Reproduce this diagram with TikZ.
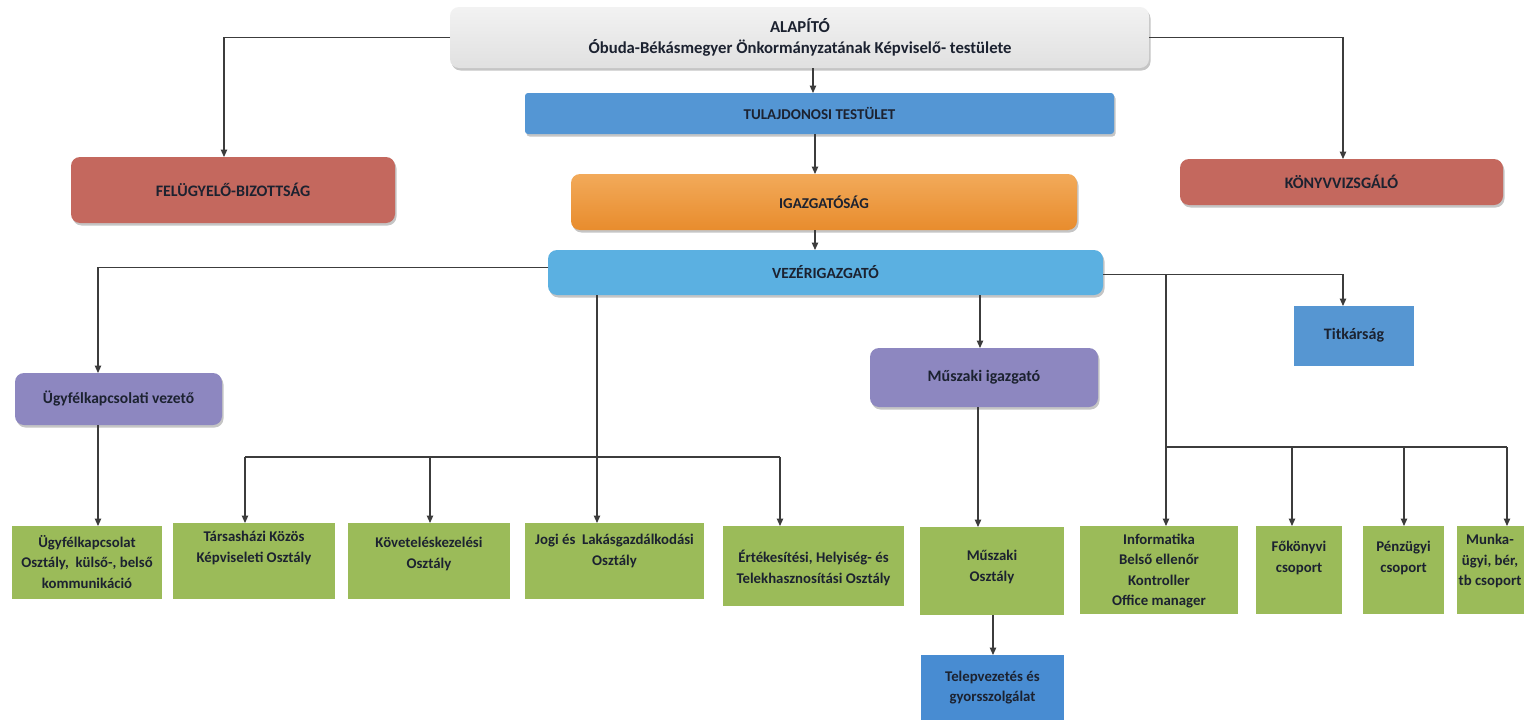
\documentclass[tikz,border=0pt]{standalone}
\usepackage{fontspec}
\setmainfont{Carlito}
\usetikzlibrary{arrows.meta,shadows,calc}
\definecolor{txtc}{RGB}{28,34,48}
\definecolor{linec}{RGB}{60,60,60}
\definecolor{alapc}{RGB}{218,218,218}
\definecolor{tulc}{RGB}{84,150,212}
\definecolor{igazc}{RGB}{232,140,45}
\definecolor{igazl}{RGB}{242,170,90}
\definecolor{redc}{RGB}{196,104,94}
\definecolor{vezc}{RGB}{91,176,225}
\definecolor{purc}{RGB}{141,135,192}
\definecolor{titc}{RGB}{86,150,210}
\definecolor{grnc}{RGB}{155,187,89}
\definecolor{telc}{RGB}{72,140,210}
\tikzset{
  rbox/.style={rounded corners=9pt, inner sep=0pt, outer sep=0pt, text=txtc,
    font=\bfseries\fontsize{15.5}{20}\selectfont,
    drop shadow={shadow xshift=1.5pt, shadow yshift=-2.5pt, opacity=0.45, fill=black!50}},
  sbox/.style={inner sep=0pt, outer sep=0pt, text=txtc, font=\bfseries\fontsize{15.5}{20}\selectfont},
  gbox/.style={sbox, fill=grnc},
  txt/.style={align=center, inner sep=0pt, text=txtc, font=\bfseries\fontsize{14.8}{20.5}\selectfont},
  conn/.style={draw=linec, line width=1.1pt},
  arr/.style={conn, -{Triangle[length=7.5pt,width=6.5pt]}}
}
\begin{document}
\begin{tikzpicture}[x=1pt,y=-1pt]
\useasboundingbox (0,0) rectangle (1524,720);
\clip (0,0) rectangle (1524,720);
\fill[white] (0,0) rectangle (1524,720);

% top level
\node[rbox, top color=gray!10, bottom color=gray!24, minimum width=699pt, minimum height=61pt] (alap) at (799.5,37.5) {};
\node[txt, font=\bfseries\fontsize{16.7}{21}\selectfont] (alapt) at (800,37.5) {ALAPÍTÓ\\Óbuda-Békásmegyer Önkormányzatának Képviselő- testülete};

\node[rbox, rounded corners=3pt, fill=tulc, minimum width=589pt, minimum height=41pt, font=\bfseries\fontsize{15}{18}\selectfont] (tul) at (819.5,113.5) {TULAJDONOSI TESTÜLET};

\node[rbox, top color=igazl, bottom color=igazc, minimum width=506pt, minimum height=56pt, font=\bfseries\fontsize{15}{18}\selectfont] (igaz) at (824,202) {IGAZGATÓSÁG};

\node[rbox, fill=redc, minimum width=324pt, minimum height=66pt, font=\bfseries\fontsize{16}{20}\selectfont] (fel) at (233,190) {FELÜGYELŐ-BIZOTTSÁG};
\node[rbox, fill=redc, minimum width=323pt, minimum height=46pt, font=\bfseries\fontsize{16}{20}\selectfont] (konyv) at (1341.5,182) {KÖNYVVIZSGÁLÓ};

\node[rbox, fill=vezc, minimum width=555pt, minimum height=45pt, font=\bfseries\fontsize{15.5}{18}\selectfont] (vez) at (825.5,272.5) {VEZÉRIGAZGATÓ};

\node[rbox, fill=purc, minimum width=228pt, minimum height=59pt, font=\bfseries\fontsize{16}{20}\selectfont] (mig) at (984,377.5) {Műszaki igazgató};
\node[rbox, fill=purc, minimum width=207pt, minimum height=52pt] (ugyv) at (118.5,399) {Ügyfélkapcsolati vezető};
\node[sbox, fill=titc, minimum width=120pt, minimum height=60pt, font=\bfseries\fontsize{16}{20}\selectfont] (titk) at (1354,336) {\raisebox{5pt}{Titkárság}};

% bottom row boxes
\node[gbox, minimum width=150pt, minimum height=73pt] (bugy) at (87,562.5) {};
\node[txt] (tugy) at (87,562) {Ügyfélkapcsolat\\Osztály, \ külső-, belső\\kommunikáció};
\node[gbox, minimum width=162pt, minimum height=76pt] (btars) at (254,561) {};
\node[txt] (ttars) at (254,548) {Társasházi Közös\\Képviseleti Osztály};
\node[gbox, minimum width=162pt, minimum height=76pt] (bkov) at (429,561) {};
\node[txt] (tkov) at (429,554) {Követeléskezelési\\Osztály};
\node[gbox, minimum width=179pt, minimum height=76pt] (bjogi) at (614.5,561) {};
\node[txt] (tjogi) at (614.5,551) {Jogi és \ Lakásgazdálkodási\\Osztály};
\node[gbox, minimum width=181pt, minimum height=80pt] (bert) at (813.5,566) {};
\node[txt] (tert) at (813.5,568) {Értékesítési, Helyiség- és\\Telekhasznosítási Osztály};
\node[gbox, minimum width=144pt, minimum height=88pt] (bmusz) at (992,571) {};
\node[txt] (tmusz) at (992,567) {Műszaki\\Osztály};
\node[gbox, minimum width=158pt, minimum height=88pt] (binfo) at (1159,570) {};
\node[txt] (tinfo) at (1159,571) {Informatika\\Belső ellenőr\\Kontroller\\Office manager};
\node[gbox, minimum width=86pt, minimum height=88pt] (bfok) at (1299,570) {};
\node[txt] (tfok) at (1299,558) {Főkönyvi\\csoport};
\node[gbox, minimum width=81pt, minimum height=88pt] (bpenz) at (1403.5,570) {};
\node[txt] (tpenz) at (1403.5,558) {Pénzügyi\\csoport};
\node[gbox, minimum width=84pt, minimum height=88pt] (bmunka) at (1499,570) {};
\node[txt] (tmunka) at (1490,561) {Munka-\\ügyi, bér,\\tb csoport};
\node[sbox, fill=telc, minimum width=143pt, minimum height=80pt] (telep) at (992.5,695) {};
\node[txt] (ttelep) at (992.5,687.5) {Telepvezetés és\\gyorsszolgálat};

% connectors from top
\draw[arr] (alap.west) -| (224,0 |- fel.north);
\draw[arr] (alap.east) -| (1343,0 |- konyv.north);
\draw[arr] (813,0 |- alap.south) -- (813,0 |- tul.north);
\draw[arr] (815,0 |- tul.south) -- (815,0 |- igaz.north);
\draw[arr] (815,0 |- igaz.south) -- (815,0 |- vez.north);

% from VEZ
\coordinate (vezL) at ([yshift=5pt]vez.west);
\coordinate (vezR) at ([yshift=-2pt]vez.east);
\draw[arr] (vezL) -| (98,0 |- ugyv.north);
\draw[arr] (98,0 |- ugyv.south) -- (98,0 |- bugy.north);
\draw[arr] (597,0 |- vez.south) -- (597,0 |- bjogi.north);
\coordinate (busL) at (245,457);
\coordinate (busK) at (430,457);
\coordinate (busR) at (780,457);
\draw[conn] (busL) -- (busR);
\draw[arr] (busL) -- (245,0 |- btars.north);
\draw[arr] (busK) -- (430,0 |- bkov.north);
\draw[arr] (busR) -- (780,0 |- bert.north);

\draw[arr] (980,0 |- vez.south) -- (980,0 |- mig.north);
\draw[arr] (978,0 |- mig.south) -- (978,0 |- bmusz.north);
\draw[arr] (993,0 |- bmusz.south) -- (993,0 |- telep.north);

\draw[arr] (vezR) -| (1343,0 |- titk.north);
\draw[arr] (1166,0 |- vezR) -- (1166,0 |- binfo.north);
\coordinate (rbusL) at (1166,447);
\coordinate (rbusF) at (1292,447);
\coordinate (rbusP) at (1404,447);
\coordinate (rbusM) at (1507,447);
\draw[conn] (rbusL) -- (rbusM);
\draw[arr] (rbusF) -- (1292,0 |- bfok.north);
\draw[arr] (rbusP) -- (1404,0 |- bpenz.north);
\draw[arr] (rbusM) -- (1507,0 |- bmunka.north);
\end{tikzpicture}
\end{document}
